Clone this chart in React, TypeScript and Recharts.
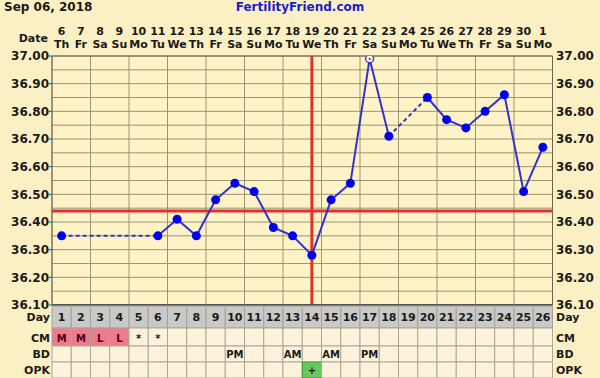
import React from 'react';
import { ComposedChart, Line, XAxis, YAxis, CartesianGrid, ReferenceLine } from 'recharts';

// cycle header
const dates = [6, 7, 8, 9, 10, 11, 12, 13, 14, 15, 16, 17, 18, 19, 20, 21, 22, 23, 24, 25, 26, 27, 28, 29, 30, 1];
const weekdays = ['Th', 'Fr', 'Sa', 'Su', 'Mo', 'Tu', 'We', 'Th', 'Fr', 'Sa', 'Su', 'Mo', 'Tu', 'We', 'Th', 'Fr', 'Sa', 'Su', 'Mo', 'Tu', 'We', 'Th', 'Fr', 'Sa', 'Su', 'Mo'];

// temps per cycle day (null = not taken)
const temps = [36.35, null, null, null, null, 36.35, 36.41, 36.35, 36.48, 36.54, 36.51, 36.38, 36.35, 36.28, 36.48, 36.54, 36.99, 36.71, null, 36.85, 36.77, 36.74, 36.8, 36.86, 36.51, 36.67];
const hollowDays = [17];

const cm = ['M', 'M', 'L', 'L', '*', '*', '', '', '', '', '', '', '', '', '', '', '', '', '', '', '', '', '', '', '', ''];
const bd = ['', '', '', '', '', '', '', '', '', 'PM', '', '', 'AM', '', 'AM', '', 'PM', '', '', '', '', '', '', '', '', ''];
const opk = ['', '', '', '', '', '', '', '', '', '', '', '', '', '+', '', '', '', '', '', '', '', '', '', '', '', ''];

const coverline = 36.44;
const ovulationDay = 14;

const tempTicks = [36.1, 36.2, 36.3, 36.4, 36.5, 36.6, 36.7, 36.8, 36.9, 37.0];
const gridTicks = [36.1, 36.15, 36.2, 36.25, 36.3, 36.35, 36.4, 36.45, 36.5, 36.55, 36.6, 36.65, 36.7, 36.75, 36.8, 36.85, 36.9, 36.95, 37.0];

const FONT = '"DejaVu Sans", Verdana, sans-serif';
const BG = '#fbf0c4';
const PLOT_BG = '#fdf3c6';
const GRID = '#9c9274';
const INK = '#1a1a1a';
const BLUE_LINE = '#3333cc';
const BLUE_DOT = '#0000ee';
const RED = '#e3302c';

const PLOT_L = 52;
const PLOT_R = 552.5;
const COL = (PLOT_R - PLOT_L) / dates.length;

const dayNums = dates.map((_, i) => i + 1);
const colEdges = [0.5, ...dayNums.map((d) => d + 0.5)];

// dashed bridges over missing temps
const gaps: [number, number][] = [];
let lastIdx = -1;
temps.forEach((t, i) => {
  if (t == null) return;
  if (lastIdx >= 0 && i - lastIdx > 1) gaps.push([lastIdx, i]);
  lastIdx = i;
});

const data = dayNums.map((d, i) => {
  const row: Record<string, number | null> = { day: d, temp: temps[i] };
  gaps.forEach(([a, b], g) => {
    row['gap' + g] = i === a || i === b ? temps[i] : null;
  });
  return row;
});

const txt = { fontFamily: FONT, fontWeight: 700, fill: INK };

function HeaderTick({ x, payload }: any) {
  const i = payload.value - 1;
  return (
    <g>
      {i === 0 && (
        <text x={48} y={41.5} textAnchor="end" fontSize={11} {...txt}>Date</text>
      )}
      <text x={x} y={34.5} textAnchor="middle" fontSize={11} {...txt}>{dates[i]}</text>
      <text x={x} y={47.5} textAnchor="middle" fontSize={11} {...txt}>{weekdays[i]}</text>
    </g>
  );
}

const rows = [
  { label: 'Day', top: 306, h: 22, base: 321 },
  { label: 'CM', top: 328, h: 18, base: 341.5 },
  { label: 'BD', top: 346, h: 16, base: 358 },
  { label: 'OPK', top: 362, h: 16, base: 374 },
];

function TableTick({ x, payload }: any) {
  const i = payload.value - 1;
  const left = x - COL / 2;
  const cells = [
    { text: String(payload.value), fill: '#c9c9c7', stroke: '#a2a29e' },
    { text: cm[i], fill: cm[i] === 'M' || cm[i] === 'L' ? '#ef7a8e' : '#fdf3dc', stroke: '#b0a690' },
    { text: bd[i], fill: '#fdf3dc', stroke: '#b0a690' },
    { text: opk[i], fill: opk[i] === '+' ? '#66c85a' : '#fdf3dc', stroke: opk[i] === '+' ? '#3f9a3a' : '#b0a690' },
  ];
  return (
    <g>
      {cells.map((c, r) => (
        <g key={r}>
          <rect x={left} y={rows[r].top} width={COL} height={rows[r].h} fill={c.fill} stroke={c.stroke} />
          {c.text && (
            <text x={x} y={rows[r].base} textAnchor="middle" fontSize={r === 0 ? 11 : 10} {...txt}
              fill={r === 1 && c.fill !== '#fdf3dc' ? '#4a0010' : INK}>{c.text}</text>
          )}
        </g>
      ))}
      {i === 0 && rows.map((r) => (
        <text key={'l' + r.label} x={50} y={r.base} textAnchor="end" fontSize={11} {...txt}>{r.label}</text>
      ))}
      {i === dates.length - 1 && rows.map((r) => (
        <text key={'r' + r.label} x={556} y={r.base} textAnchor="start" fontSize={11} {...txt}>{r.label}</text>
      ))}
    </g>
  );
}

function TempDot(props: any) {
  const { cx, cy, payload, index } = props;
  if (cx == null || cy == null || payload.temp == null) return <g key={'d' + index} />;
  if (hollowDays.includes(payload.day)) {
    return (
      <g key={'d' + index}>
        <circle cx={cx} cy={cy} r={4} fill={PLOT_BG} stroke={BLUE_LINE} strokeWidth={1.3} />
        <circle cx={cx} cy={cy} r={1} fill={BLUE_LINE} />
      </g>
    );
  }
  return <circle key={'d' + index} cx={cx} cy={cy} r={4.5} fill={BLUE_DOT} stroke="none" />;
}

const fmt = (v: number) => v.toFixed(2);

export default function App() {
  return (
    <div style={{ position: 'absolute', left: 0, top: 0, width: 600, height: 378, background: BG, overflow: 'hidden' }}>
      <div style={{ position: 'absolute', left: 4, top: 0, font: `700 12px ${FONT}`, color: INK, lineHeight: '14px' }}>
        Sep 06, 2018
      </div>
      <div style={{ position: 'absolute', left: 0, width: 600, textAlign: 'center', top: 0, font: `700 12px ${FONT}`, color: '#1d1dc4', lineHeight: '14px' }}>
        FertilityFriend.com
      </div>
      <ComposedChart width={600} height={378} data={data} margin={{ top: 0, right: 0, bottom: 0, left: 0 }} style={{ position: 'absolute', left: 0, top: 0 }}>
        <CartesianGrid xAxisId="grid" yAxisId="grid" stroke={GRID} fill={PLOT_BG} strokeWidth={1} />
        <XAxis xAxisId="top" orientation="top" type="number" dataKey="day" domain={[0.5, 26.5]} ticks={dayNums} interval={0}
          height={56} tickLine={false} axisLine={{ stroke: '#6b6550' }} tick={<HeaderTick />} />
        <XAxis xAxisId="bottom" orientation="bottom" type="number" dataKey="day" domain={[0.5, 26.5]} ticks={dayNums} interval={0}
          height={73} tickLine={false} axisLine={{ stroke: '#555', strokeWidth: 2 }} tick={<TableTick />} />
        <YAxis yAxisId="left" orientation="left" type="number" dataKey="temp" domain={[36.1, 37]} allowDataOverflow ticks={tempTicks} interval={0} width={52}
          tickFormatter={fmt} tickSize={3} tickMargin={0} tickLine={{ stroke: '#444' }} axisLine={{ stroke: '#6b6550' }}
          tick={{ fontFamily: FONT, fontWeight: 700, fontSize: 12, fill: INK }} />
        <YAxis yAxisId="right" orientation="right" type="number" dataKey="temp" domain={[36.1, 37]} allowDataOverflow ticks={tempTicks} interval={0} width={47.5}
          tickFormatter={fmt} tickSize={0} tickMargin={3.5} axisLine={{ stroke: '#6b6550' }}
          tick={{ fontFamily: FONT, fontWeight: 700, fontSize: 12, fill: INK, textAnchor: 'start' }} />
        <XAxis xAxisId="grid" orientation="bottom" type="number" dataKey="day" domain={[0.5, 26.5]} ticks={colEdges} height={0} hide />
        <YAxis yAxisId="grid" orientation="left" type="number" dataKey="temp" domain={[36.1, 37]} allowDataOverflow ticks={gridTicks} interval={0} width={0} hide />
        <ReferenceLine xAxisId="bottom" yAxisId="left" y={coverline} stroke={RED} strokeWidth={3} />
        <ReferenceLine xAxisId="bottom" yAxisId="left" x={ovulationDay} stroke={RED} strokeWidth={3} />
        {gaps.map((_, g) => (
          <Line key={g} xAxisId="bottom" yAxisId="left" dataKey={'gap' + g} stroke={BLUE_LINE} strokeWidth={2}
            strokeDasharray="4 3" dot={false} connectNulls isAnimationActive={false} />
        ))}
        <Line xAxisId="bottom" yAxisId="left" dataKey="temp" stroke={BLUE_LINE} strokeWidth={2} connectNulls={false}
          dot={<TempDot />} activeDot={false} isAnimationActive={false} />
      </ComposedChart>
    </div>
  );
}
